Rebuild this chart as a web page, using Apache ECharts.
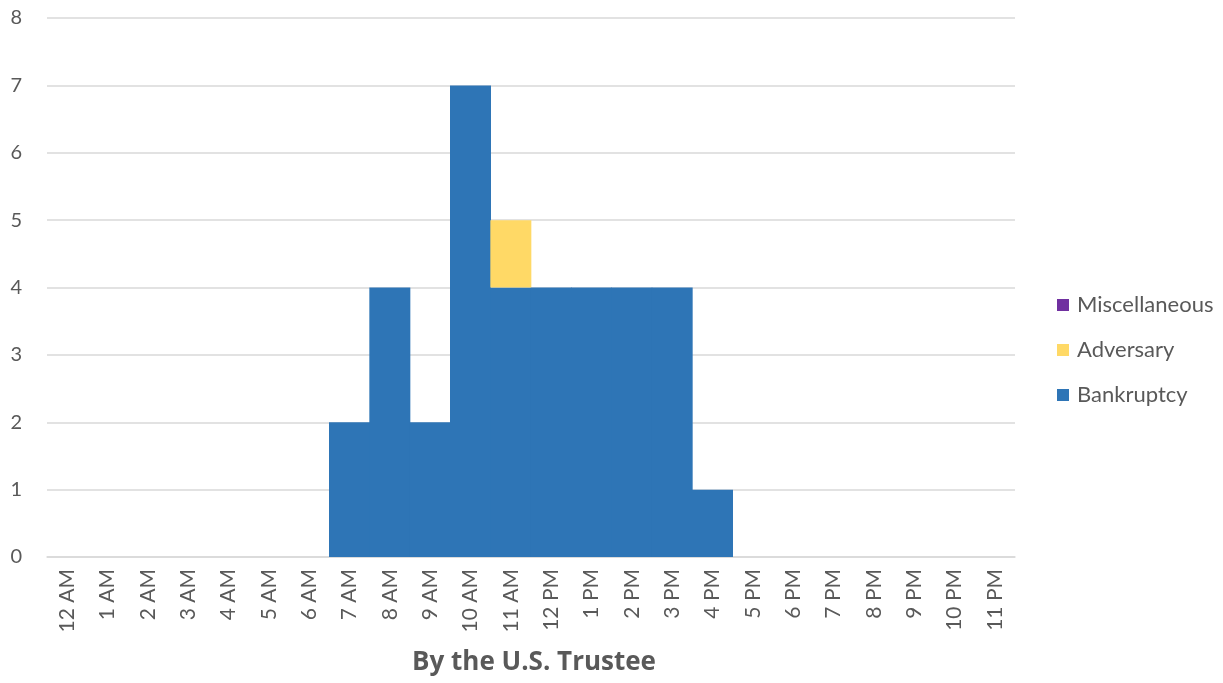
<!DOCTYPE html>
<html>
<head>
<meta charset="utf-8">
<script src="https://cdn.jsdelivr.net/npm/echarts@6/dist/echarts.min.js"></script>
<style>html,body{margin:0;padding:0;background:#fff}#c{width:1223px;height:683px}</style>
</head>
<body>
<div id="c"></div>
<script>
const categories = ["12 AM","1 AM","2 AM","3 AM","4 AM","5 AM","6 AM","7 AM","8 AM","9 AM","10 AM","11 AM","12 PM","1 PM","2 PM","3 PM","4 PM","5 PM","6 PM","7 PM","8 PM","9 PM","10 PM","11 PM"];
const bankruptcy = [0,0,0,0,0,0,0,2,4,2,7,4,4,4,4,4,1,0,0,0,0,0,0,0];
const adversary = [0,0,0,0,0,0,0,0,0,0,0,1,0,0,0,0,0,0,0,0,0,0,0,0];
const miscellaneous = [0,0,0,0,0,0,0,0,0,0,0,0,0,0,0,0,0,0,0,0,0,0,0,0];
const chartTitle = "By the U.S. Trustee";

const font = "Lato, 'Open Sans', sans-serif";
const colors = { Bankruptcy: '#2E75B6', Adversary: '#FFD966', Miscellaneous: '#7030A0' };
const chart = echarts.init(document.getElementById('c'));
function bar(name, data) {
  return { name, type: 'bar', stack: 'a', data: data.map(v => v === 0 ? '-' : v),
    barWidth: 41, barGap: '-100%',
    itemStyle: { color: colors[name] } };
}
chart.setOption({
  animation: false,
  textStyle: { fontFamily: font },
  title: {
    text: chartTitle, left: 529, textAlign: 'center', top: 644,
    textStyle: { fontFamily: "'Open Sans', Lato, sans-serif", fontSize: 26, fontWeight: 'bold', color: '#595959', lineHeight: 28 }
  },
  legend: {
    orient: 'vertical', left: 1057, top: 294, padding: 0,
    itemWidth: 12, itemHeight: 12, itemGap: 23,
    icon: 'rect',
    data: ['Miscellaneous','Adversary','Bankruptcy'],
    textStyle: { fontFamily: font, fontSize: 22, lineHeight: 22, color: '#595959', padding: [0,0,0,3] }
  },
  grid: { left: 47, right: 208, top: 18, bottom: 126, containLabel: false },
  xAxis: {
    type: 'category', data: categories,
    axisLine: { show: true, lineStyle: { color: '#d9d9d9', width: 1.5 } },
    axisTick: { show: false },
    axisLabel: { rotate: 90, fontSize: 21, color: '#595959', margin: 12, fontFamily: font }
  },
  yAxis: {
    type: 'value', min: 0, max: 8, interval: 1,
    axisLine: { show: false }, axisTick: { show: false },
    splitLine: { lineStyle: { color: '#d9d9d9', width: 1.5 } },
    axisLabel: { fontSize: 20, color: '#595959', margin: 25, fontFamily: font }
  },
  series: [ bar('Bankruptcy', bankruptcy), bar('Adversary', adversary), bar('Miscellaneous', miscellaneous) ]
});
</script>
</body>
</html>
